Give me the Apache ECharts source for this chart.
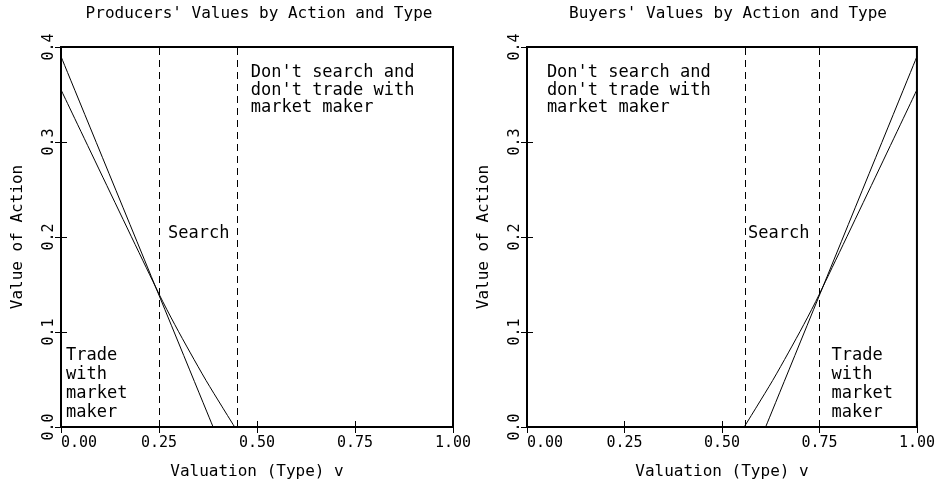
<!DOCTYPE html>
<html>
<head>
<meta charset="utf-8">
<script src="https://cdn.jsdelivr.net/npm/echarts@6/dist/echarts.min.js"></script>
<style>
    html, body { margin: 0; padding: 0; background: #fff; }
    #chart { width: 938px; height: 485px; }
</style>
</head>
<body>
<div id="chart"></div>
<script>
// values: [valuation v, value of action]
const producerTrade = [ [ 0, 0.39 ], [ 0.388, 0 ] ];
const producerSearch = [ [ 0, 0.355 ], [ 0.25, 0.14 ], [ 0.29, 0.108 ], [ 0.33, 0.078 ], [ 0.37, 0.049 ], [ 0.41, 0.022 ], [ 0.443, 0 ] ];
const buyerTrade = [ [ 0.612, 0 ], [ 1, 0.39 ] ];
const buyerSearch = [ [ 0.557, 0 ], [ 0.59, 0.022 ], [ 0.63, 0.049 ], [ 0.67, 0.078 ], [ 0.71, 0.108 ], [ 0.75, 0.14 ], [ 1, 0.355 ] ];

const producerCutoffs = [ 0.25, 0.445 ];
const buyerCutoffs = [ 0.555, 0.75 ];

const titles = [ "Producers' Values by Action and Type", "Buyers' Values by Action and Type" ];
const xName = 'Valuation (Type) v';
const yName = 'Value of Action';

// region labels, anchored at their top-left corner in data coords
const producerNotes = [
    [ 0.484, 0.382, "Don't search and\ndon't trade with\nmarket maker", 17.5 ],
    [ 0.273, 0.213, 'Search', 18 ],
    [ 0.013, 0.085, 'Trade\nwith\nmarket\nmaker', 19 ]
];
const buyerNotes = [
    [ 0.051, 0.382, "Don't search and\ndon't trade with\nmarket maker", 17.5 ],
    [ 0.567, 0.213, 'Search', 18 ],
    [ 0.781, 0.085, 'Trade\nwith\nmarket\nmaker', 19 ]
];

const font = 'DejaVu Sans Mono';
const grids = [
    { left: 61, top: 47, width: 392, height: 380 },
    { left: 527, top: 47, width: 393, height: 380 }
];

function xAxes( gi ) {
    const base = {
        gridIndex: gi, type: 'value', min: 0, max: 1, interval: 0.25,
        splitLine: { show: false },
        axisLine: { show: false },
        axisTick: { inside: true, length: 6, lineStyle: { color: '#000', width: 1 } }
    };
    return [ {
        ...base,
        position: 'bottom',
        name: xName,
        nameLocation: 'middle',
        nameGap: 37,
        nameTextStyle: { fontFamily: font, fontSize: 16, color: '#000' },
        axisLabel: {
            margin: 9, fontFamily: font, fontSize: 15, color: '#000',
            alignMinLabel: 'left',
            formatter: v => v.toFixed( 2 )
        }
    }, {
        ...base,
        position: 'top',
        axisLabel: { show: false }
    } ];
}

function yAxes( gi ) {
    const base = {
        gridIndex: gi, type: 'value', min: 0, max: 0.4, interval: 0.1,
        splitLine: { show: false },
        axisLine: { show: false },
        axisTick: { inside: true, length: 6, lineStyle: { color: '#000', width: 1 } }
    };
    return [ {
        ...base,
        position: 'left',
        name: yName,
        nameLocation: 'middle',
        nameGap: 35,
        nameTextStyle: { fontFamily: font, fontSize: 16, color: '#000' },
        axisLabel: {
            margin: 4, rotate: 90, fontFamily: font, fontSize: 15, color: '#000',
            formatter: v => v.toFixed( 1 )
        }
    }, {
        ...base,
        position: 'right',
        axisLabel: { show: false }
    } ];
}

function curve( data, ax ) {
    return {
        type: 'line', data, xAxisIndex: ax, yAxisIndex: ax,
        symbol: 'none', smooth: 0.3, silent: true,
        lineStyle: { color: '#000', width: 1 }
    };
}

function cutoffs( vals, ax ) {
    return {
        type: 'line', data: [], xAxisIndex: ax, yAxisIndex: ax, silent: true,
        markLine: {
            silent: true,
            symbol: [ 'none', 'none' ],
            label: { show: false },
            lineStyle: { color: '#000', width: 1, type: [ 7, 5 ] },
            data: vals.map( v => ( { xAxis: v } ) )
        }
    };
}

const option = {
    animation: false,
    backgroundColor: '#fff',
    title: titles.map( ( t, i ) => ( {
        text: t,
        left: i ? 723 : 254,
        top: 1,
        textAlign: 'center',
        textStyle: { fontFamily: font, fontSize: 16, fontWeight: 'normal', color: '#000' }
    } ) ),
    grid: grids.map( g => ( { ...g, show: true, borderColor: '#000', borderWidth: 2, backgroundColor: 'transparent' } ) ),
    xAxis: [ ...xAxes( 0 ), ...xAxes( 1 ) ],
    yAxis: [ ...yAxes( 0 ), ...yAxes( 1 ) ],
    series: [
        curve( producerTrade, 0 ),
        curve( producerSearch, 0 ),
        cutoffs( producerCutoffs, 0 ),
        curve( buyerTrade, 2 ),
        curve( buyerSearch, 2 ),
        cutoffs( buyerCutoffs, 2 )
    ]
};

const chart = echarts.init( document.getElementById( 'chart' ), null, { renderer: 'canvas' } );
chart.setOption( option );

// place the region labels through the grid's own scales
function noteGraphics( list, gi ) {
    return list.map( n => {
        const p = chart.convertToPixel( { gridIndex: gi }, [ n[ 0 ], n[ 1 ] ] );
        return {
            type: 'text', x: p[ 0 ], y: p[ 1 ], silent: true,
            style: {
                text: n[ 2 ], fill: '#000',
                fontFamily: font, fontSize: 17, lineHeight: n[ 3 ],
                align: 'left', verticalAlign: 'top'
            }
        };
    } );
}
chart.setOption( { graphic: [ ...noteGraphics( producerNotes, 0 ), ...noteGraphics( buyerNotes, 1 ) ] } );
</script>
</body>
</html>
